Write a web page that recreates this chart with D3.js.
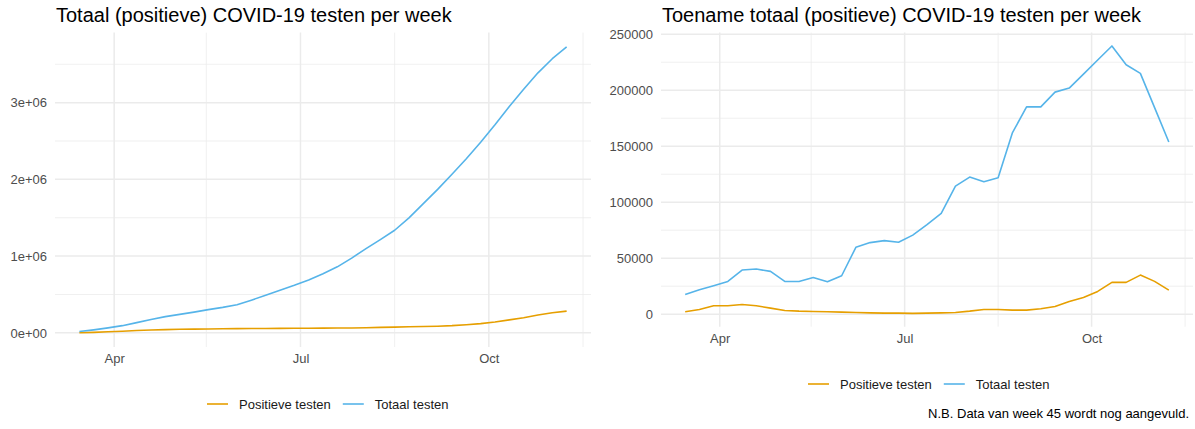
<!DOCTYPE html>
<html>
<head>
<meta charset="utf-8">
<script src="https://cdn.jsdelivr.net/npm/d3@7"></script>
<style>
  body { margin: 0; background: #fff; }
  text { font-family: "Liberation Sans", Arial, sans-serif; }
</style>
</head>
<body>
<svg id="chart" width="1195" height="429"></svg>
<script>

// week 11 t/m week 45 (zondag van elke week)
var weekDates = ["2020-03-15","2020-03-22","2020-03-29","2020-04-05","2020-04-12","2020-04-19","2020-04-26",
  "2020-05-03","2020-05-10","2020-05-17","2020-05-24","2020-05-31","2020-06-07","2020-06-14","2020-06-21",
  "2020-06-28","2020-07-05","2020-07-12","2020-07-19","2020-07-26","2020-08-02","2020-08-09","2020-08-16",
  "2020-08-23","2020-08-30","2020-09-06","2020-09-13","2020-09-20","2020-09-27","2020-10-04","2020-10-11",
  "2020-10-18","2020-10-25","2020-11-01","2020-11-08"];

// totaal (cumulatief)
var totaalCum = [17500, 39300, 64700, 93900, 133300, 173600, 211800, 241000, 270200, 303000, 331900,
  366200, 425900, 489800, 555500, 619700, 690300, 770300, 860400, 974700, 1097100, 1215400, 1337200,
  1499000, 1684100, 1869200, 2067500, 2269400, 2483800, 2710800, 2950300, 3173000, 3388000, 3572400, 3726200];
var positiefCum = [2100, 6300, 13800, 21300, 30000, 37500, 42900, 46200, 48900, 51300, 53400, 55200,
  56700, 57900, 58800, 59700, 60500, 61400, 62600, 64100, 66800, 71000, 75200, 78800, 82400, 87200,
  94100, 105500, 120400, 140700, 169100, 197500, 232400, 261700, 283200];

// toename per week
var totaalWeek = [17500, 21800, 25400, 29200, 39400, 40300, 38200, 29200, 29200, 32800, 28900, 34300,
  59700, 63900, 65700, 64200, 70600, 80000, 90100, 114300, 122400, 118300, 121800, 161800, 185100,
  185100, 198300, 201900, 214400, 227000, 239500, 222700, 215000, 184400, 153800];
var positiefWeek = [2100, 4200, 7500, 7500, 8700, 7500, 5400, 3300, 2700, 2400, 2100, 1800, 1500,
  1200, 900, 900, 750, 900, 1200, 1500, 2700, 4200, 4200, 3600, 3600, 4800, 6900, 11400, 14900,
  20300, 28400, 28400, 34900, 29300, 21500];

var seriesNames = ["Positieve testen", "Totaal testen"];
var seriesColors = ["#E69F00", "#56B4E9"];

var xMajorDates = ["2020-04-01", "2020-07-01", "2020-10-01"];
var xMajorLabels = ["Apr", "Jul", "Oct"];
var xMinorDates = ["2020-05-16", "2020-08-16", "2020-11-16"];

var leftYMajor = [0, 1000000, 2000000, 3000000];
var leftYLabels = ["0e+00", "1e+06", "2e+06", "3e+06"];
var leftYMinor = [500000, 1500000, 2500000, 3500000];

var rightYMajor = [0, 50000, 100000, 150000, 200000, 250000];
var rightYLabels = ["0", "50000", "100000", "150000", "200000", "250000"];
var rightYMinor = [25000, 75000, 125000, 175000, 225000];

var parseDate = d3.timeParse("%Y-%m-%d");
var svg = d3.select("#chart");

drawPanel({
  left: 55, right: 591, top: 32.6, bottom: 347,
  title: "Totaal (positieve) COVID-19 testen per week",
  series: [positiefCum, totaalCum],
  yMajor: leftYMajor, yLabels: leftYLabels, yMinor: leftYMinor,
  legendX: 207, legendY: 404
});

drawPanel({
  left: 661, right: 1193, top: 32.6, bottom: 326.7,
  title: "Toename totaal (positieve) COVID-19 testen per week",
  series: [positiefWeek, totaalWeek],
  yMajor: rightYMajor, yLabels: rightYLabels, yMinor: rightYMinor,
  legendX: 808, legendY: 384
});

svg.append("text")
  .attr("x", 1189)
  .attr("y", 418)
  .attr("text-anchor", "end")
  .attr("font-size", 13)
  .attr("fill", "#000")
  .text("N.B. Data van week 45 wordt nog aangevuld.");


function expand(ext){
  var pad = (ext[1] - ext[0]) * 0.05;
  return [ext[0] - pad, ext[1] + pad];
}

function drawPanel(p){
  var dates = weekDates.map(parseDate);
  var allVals = p.series[0].concat(p.series[1]);

  var x = d3.scaleTime()
    .domain(expand(d3.extent(dates, function(d){ return +d; })))
    .range([p.left, p.right]);
  var y = d3.scaleLinear()
    .domain(expand(d3.extent(allVals)))
    .range([p.bottom, p.top]);

  var g = svg.append("g");

  // minor grid
  g.selectAll(".ymin").data(p.yMinor.filter(function(v){ return y(v) >= p.top; }))
    .enter().append("line")
    .attr("x1", p.left).attr("x2", p.right)
    .attr("y1", function(d){ return y(d); }).attr("y2", function(d){ return y(d); })
    .attr("stroke", "#ebebeb").attr("stroke-width", 0.75);
  g.selectAll(".xmin").data(xMinorDates.map(parseDate).filter(function(d){ return x(d) <= p.right; }))
    .enter().append("line")
    .attr("y1", p.top).attr("y2", p.bottom)
    .attr("x1", function(d){ return x(d); }).attr("x2", function(d){ return x(d); })
    .attr("stroke", "#ebebeb").attr("stroke-width", 0.75);

  // major grid
  g.selectAll(".ymaj").data(p.yMajor)
    .enter().append("line")
    .attr("x1", p.left).attr("x2", p.right)
    .attr("y1", function(d){ return y(d); }).attr("y2", function(d){ return y(d); })
    .attr("stroke", "#ebebeb").attr("stroke-width", 1.5);
  g.selectAll(".xmaj").data(xMajorDates.map(parseDate))
    .enter().append("line")
    .attr("y1", p.top).attr("y2", p.bottom)
    .attr("x1", function(d){ return x(d); }).attr("x2", function(d){ return x(d); })
    .attr("stroke", "#ebebeb").attr("stroke-width", 1.5);

  // axes labels
  var yAxis = d3.axisLeft(y).tickValues(p.yMajor).tickSize(0).tickPadding(8)
    .tickFormat(function(d, i){ return p.yLabels[i]; });
  var ya = g.append("g").attr("transform", "translate(" + p.left + ",0)").call(yAxis);
  ya.select(".domain").remove();
  ya.selectAll("text").attr("font-size", 13).attr("fill", "#4d4d4d")
    .attr("font-family", "Liberation Sans, Arial, sans-serif");

  var xAxis = d3.axisBottom(x).tickValues(xMajorDates.map(parseDate)).tickSize(0).tickPadding(7)
    .tickFormat(function(d, i){ return xMajorLabels[i]; });
  var xa = g.append("g").attr("transform", "translate(0," + p.bottom + ")").call(xAxis);
  xa.select(".domain").remove();
  xa.selectAll("text").attr("font-size", 13).attr("fill", "#4d4d4d")
    .attr("font-family", "Liberation Sans, Arial, sans-serif");

  // lines
  var line = d3.line()
    .x(function(d, i){ return x(dates[i]); })
    .y(function(d){ return y(d); });
  for(i = 0; i < p.series.length; i++){
    g.append("path")
      .attr("d", line(p.series[i]))
      .attr("fill", "none")
      .attr("stroke", seriesColors[i])
      .attr("stroke-width", 1.6)
      .attr("stroke-linejoin", "round");
  }

  // title
  g.append("text")
    .attr("x", p.left + 1)
    .attr("y", 22)
    .attr("font-size", 20)
    .attr("fill", "#000")
    .text(p.title);

  // legend
  var lx = p.legendX;
  for(i = 0; i < seriesNames.length; i++){
    g.append("line")
      .attr("x1", lx).attr("x2", lx + 21)
      .attr("y1", p.legendY).attr("y2", p.legendY)
      .attr("stroke", seriesColors[i]).attr("stroke-width", 1.6);
    var t = g.append("text")
      .attr("x", lx + 32)
      .attr("y", p.legendY + 4.5)
      .attr("font-size", 13)
      .attr("fill", "#1a1a1a")
      .text(seriesNames[i]);
    lx = lx + 32 + t.node().getComputedTextLength() + 12;
  }
}
</script>
</body>
</html>
